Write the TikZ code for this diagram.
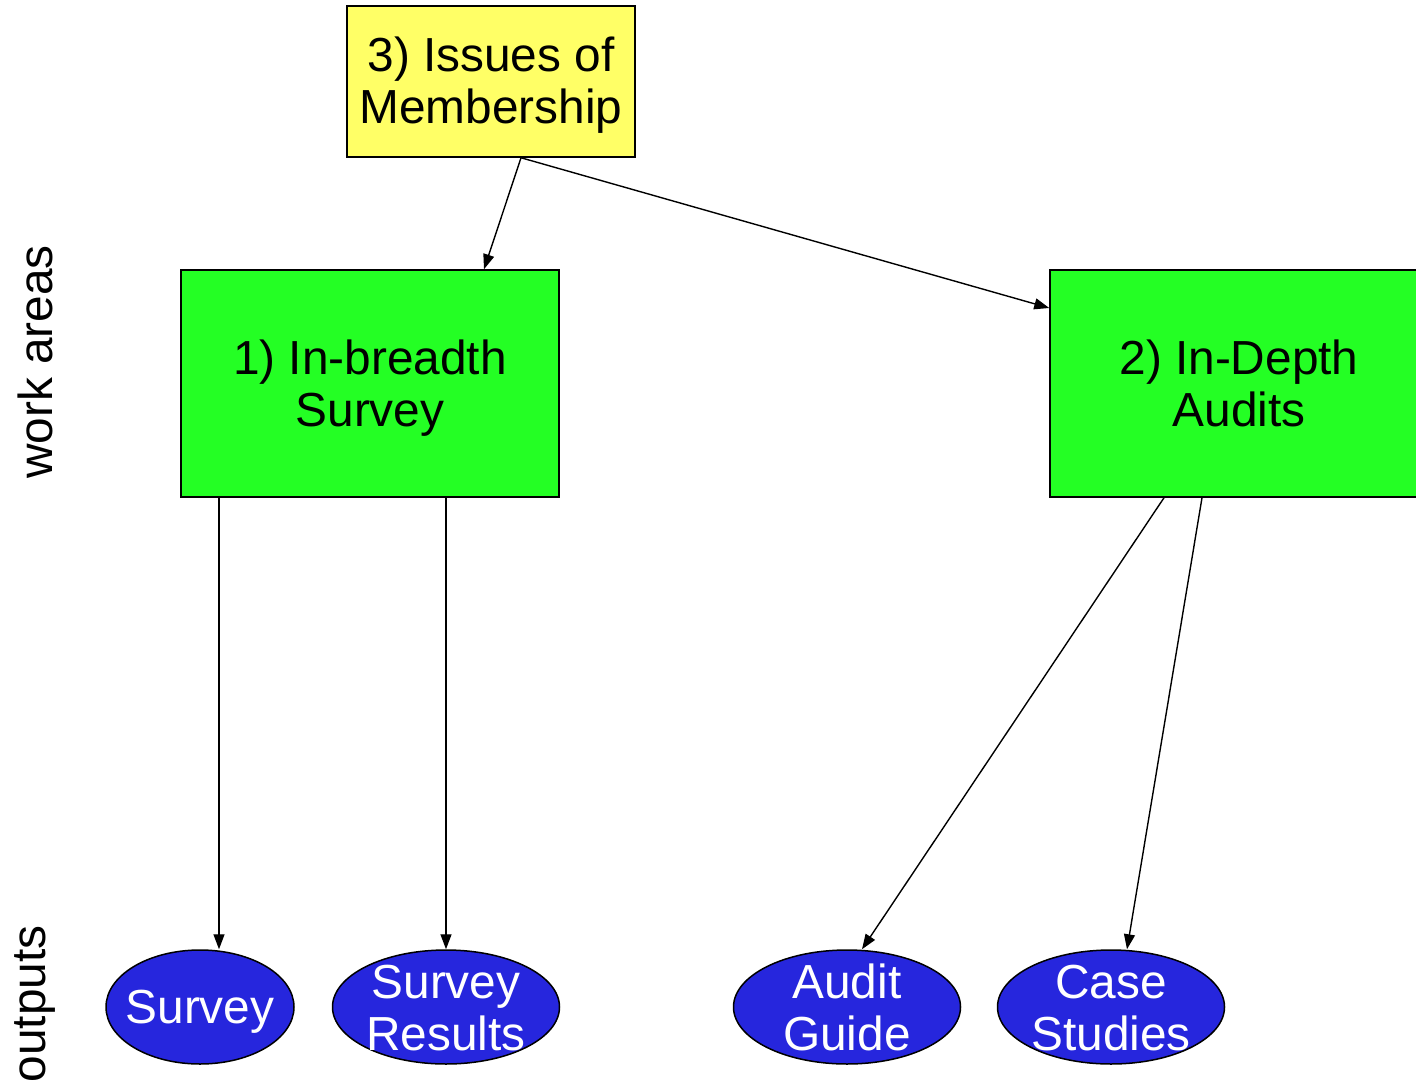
\documentclass[tikz,border=0pt]{standalone}
\usepackage{fontspec}
\setmainfont{Liberation Sans}
\usetikzlibrary{arrows.meta,shapes.geometric}
\definecolor{boxyellow}{HTML}{FFFF66}
\definecolor{boxgreen}{HTML}{24FF24}
\definecolor{ellblue}{HTML}{2626DD}
\begin{document}
\begin{tikzpicture}[x=1pt,y=-1pt,
  txt/.style={font=\fontsize{47.8}{52}\selectfont, align=center, inner sep=0pt},
  boxnode/.style={draw=black, line width=1.5pt, rectangle, inner sep=0pt},
  outnode/.style={draw=black, line width=1.5pt, ellipse, fill=ellblue, inner sep=0pt, minimum height=114pt},
  outtxt/.style={txt, text=white},
  arr/.style={line width=1.4pt, -{Triangle[length=15pt,width=11pt]}},
  sidelbl/.style={font=\fontsize{47.8}{52}\selectfont, rotate=90, anchor=base}]
\useasboundingbox (0,0) rectangle (1416,1089);
\node[boxnode, fill=boxyellow, minimum width=288pt, minimum height=151pt] (yel) at (491,81.5) {};
\node[txt] (yelt) at (491,85) {3) Issues of\\Membership};
\node[boxnode, fill=boxgreen, minimum width=378pt, minimum height=227pt] (g1) at (370,383.5) {};
\node[txt] (g1t) at (370,388) {1) In-breadth\\Survey};
\node[boxnode, fill=boxgreen, minimum width=378pt, minimum height=227pt] (g2) at (1239,383.5) {};
\node[txt] (g2t) at (1239,383.5) {2) In-Depth\\Audits};
\node[outnode, minimum width=188pt] (s1) at (200,1007) {};
\node[outtxt] (s1t) at (200,1012) {Survey};
\node[outnode, minimum width=227pt] (s2) at (446,1007) {};
\node[outtxt] (s2t) at (446,1008) {Survey\\Results};
\node[outnode, minimum width=227pt] (a1) at (847,1007) {};
\node[outtxt] (a1t) at (847,1007) {Audit\\Guide};
\node[outnode, minimum width=227pt] (c1) at (1111,1007) {};
\node[outtxt] (c1t) at (1111,1008) {Case\\Studies};
\node[sidelbl] (wa) at (52,362) {work areas};
\node[sidelbl] (op) at (45,1004) {outputs};
\draw[arr] ([xshift=30pt]yel.south) -- ([xshift=114pt]g1.north);
\draw[arr] ([xshift=30pt]yel.south) -- ([yshift=75.5pt]g2.west);
\draw[arr] ([xshift=-151pt]g1.south) -- ([xshift=19pt]s1.north);
\draw[arr] ([xshift=76pt]g1.south) -- (s2.north);
\draw[arr] ([xshift=-75pt]g2.south) -- ([xshift=15pt]a1.north);
\draw[arr] ([xshift=-37pt]g2.south) -- ([xshift=16pt]c1.north);
\end{tikzpicture}
\end{document}
